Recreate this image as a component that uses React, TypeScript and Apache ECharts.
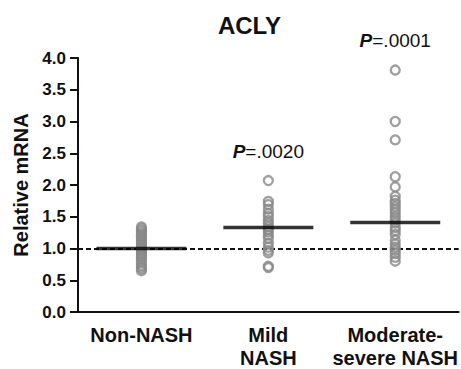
import React, { useEffect, useRef } from "react";
import * as echarts from "echarts";

const categories = ["Non-NASH", "Mild\nNASH", "Moderate-\nsevere NASH"];
const nonNash = [1.34, 1.31, 1.28, 1.25, 1.22, 1.19, 1.16, 1.13, 1.1, 1.07, 1.04, 1.01, 0.99, 0.96, 0.93, 0.9, 0.87, 0.83, 0.78, 0.74, 0.71, 0.68, 0.65];
const mildNash = [2.07, 1.74, 1.69, 1.62, 1.55, 1.5, 1.44, 1.39, 1.34, 1.3, 1.26, 1.21, 1.16, 1.08, 1.02, 0.97, 0.93, 0.72, 0.7];
const modSevere = [3.81, 3.0, 2.71, 2.13, 1.97, 1.82, 1.76, 1.71, 1.66, 1.61, 1.56, 1.5, 1.45, 1.4, 1.33, 1.28, 1.22, 1.13, 1.07, 1.02, 0.97, 0.92, 0.86, 0.8];
const medians = [1.0, 1.33, 1.41];
const pLabels = ["", ".0020", ".0001"];
const pLabelValues = [0, 2.52, 4.27];
const referenceValue = 1.0;
const title = "ACLY";
const yName = "Relative mRNA";

export default function App() {
  const ref = useRef<HTMLDivElement>(null);
  useEffect(() => {
    if (!ref.current) return;
    const chart = echarts.init(ref.current, null, { renderer: "svg" });
    const groups = [nonNash, mildNash, modSevere];
    const points: [number, number][] = [];
    groups.forEach((g, i) => g.forEach((v) => points.push([i, v])));
    const font = "'Liberation Sans', Arial, Helvetica, sans-serif";
    chart.setOption({
      animation: false,
      textStyle: { fontFamily: font },
      grid: { left: 78, right: 2, top: 58, bottom: 57 },
      xAxis: {
        type: "category",
        data: categories,
        boundaryGap: true,
        axisLine: { lineStyle: { color: "#111", width: 2 } },
        axisTick: { alignWithLabel: true, length: 7, lineStyle: { color: "#111", width: 2 } },
        axisLabel: { interval: 0, color: "#111", fontSize: 20, fontWeight: "bold", margin: 11, lineHeight: 23, fontFamily: font },
      },
      yAxis: {
        type: "value",
        min: 0,
        max: 4,
        interval: 0.5,
        splitLine: { show: false },
        axisLine: { show: true, lineStyle: { color: "#111", width: 2 } },
        axisTick: { show: true, length: 8, lineStyle: { color: "#111", width: 2 } },
        axisLabel: { color: "#111", fontSize: 17, fontWeight: "bold", margin: 12, fontFamily: font, formatter: (v: number) => v.toFixed(1) },
      },
      series: [
        {
          type: "scatter",
          data: points,
          symbol: "circle",
          symbolSize: 9,
          itemStyle: { color: "rgba(0,0,0,0)", borderColor: "#888", borderWidth: 2.3 },
          z: 2,
          markLine: {
            silent: true,
            symbol: ["none", "none"],
            label: { show: false },
            lineStyle: { type: [5, 3], color: "#111", width: 2 },
            data: [{ yAxis: referenceValue }],
            z: 1,
          },
        },
        {
          type: "scatter",
          data: medians.map((m, i) => [i, m]),
          symbol: "rect",
          symbolSize: [90, 3.5],
          itemStyle: { color: "#000" },
          z: 3,
        },
      ],
    });
    const graphics: any[] = [
      {
        type: "text",
        x: 249.5,
        y: 25,
        style: { text: title, fontSize: 24, fontWeight: "bold", fill: "#111", fontFamily: font, textAlign: "center", textVerticalAlign: "middle" },
      },
      {
        type: "text",
        x: 21,
        y: 185,
        rotation: Math.PI / 2,
        style: { text: yName, fontSize: 20, fontWeight: "bold", fill: "#111", fontFamily: font, textAlign: "center", textVerticalAlign: "middle" },
      },
    ];
    pLabels.forEach((p, i) => {
      if (!p) return;
      const [px, py] = chart.convertToPixel({ gridIndex: 0 }, [i, pLabelValues[i]]);
      graphics.push({
        type: "text",
        x: px,
        y: py,
        style: {
          text: `{p|P}{n|=${p}}`,
          textAlign: "center",
          textVerticalAlign: "middle",
          rich: {
            p: { fontSize: 19, fontWeight: "bold", fontStyle: "italic", fill: "#111", fontFamily: font },
            n: { fontSize: 19, fill: "#111", fontFamily: font },
          },
        },
      });
    });
    chart.setOption({ graphic: graphics });
    return () => chart.dispose();
  }, []);
  return <div ref={ref} style={{ position: "fixed", left: 0, top: 0, width: 461, height: 369, background: "#fff" }} />;
}
